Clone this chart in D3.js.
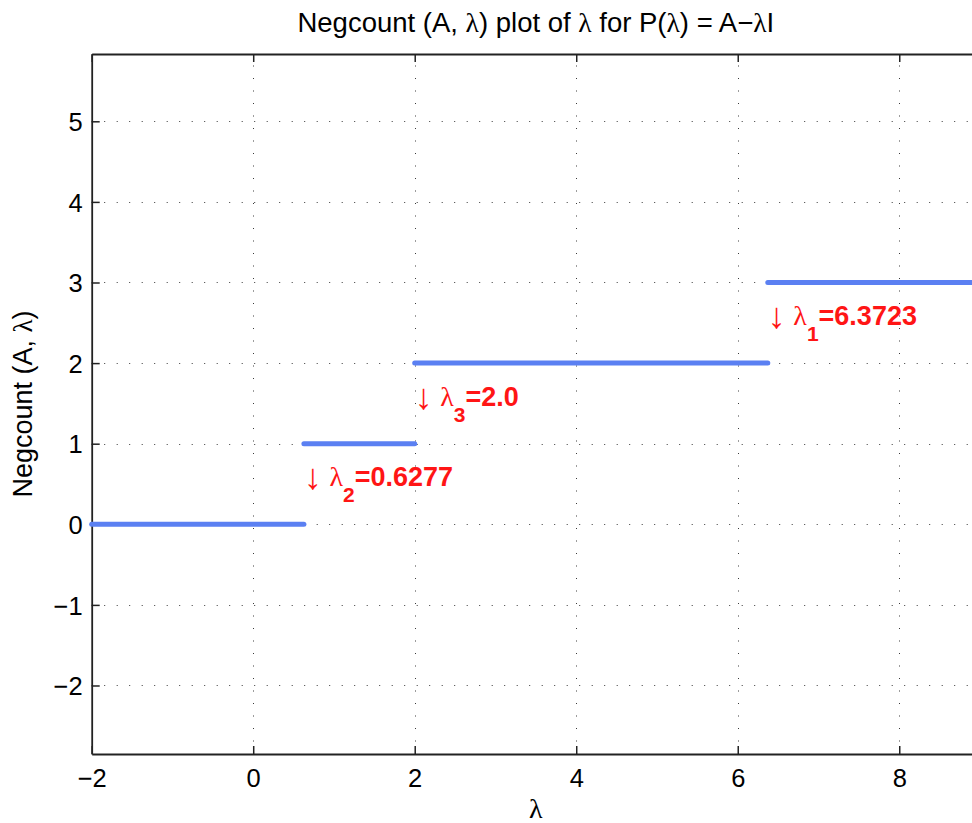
<!DOCTYPE html>
<html>
<head>
<meta charset="utf-8">
<script src="https://cdn.jsdelivr.net/npm/d3@7"></script>
<style>
  html, body { margin: 0; padding: 0; background: #fff; }
  svg { display: block; font-family: "Liberation Sans", Arial, Helvetica, sans-serif; }
</style>
</head>
<body>
<svg id="chart" width="972" height="823"></svg>
<script>
// Step function: number of negative eigenvalues of A - λI
const stepStart = [-2, 0.6277, 2.0, 6.3723];
const stepEnd   = [0.6277, 2.0, 6.3723, 9];
const negCount  = [0, 1, 2, 3];

// Eigenvalue annotations
const eigValues   = [0.6277, 2.0, 6.3723];
const eigIndex    = ["2", "3", "1"];
const eigText     = ["0.6277", "2.0", "6.3723"];
const eigBelowCnt = [0, 1, 2];

const xTicks = [-2, 0, 2, 4, 6, 8];
const yTicks = [-2, -1, 0, 1, 2, 3, 4, 5];

const svg = d3.select("#chart");
const plotL = 91.7, plotR = 980, plotT = 54, plotB = 754;
const greekFont = "'Liberation Serif', 'Times New Roman', serif";

const x = d3.scaleLinear().domain([-2, 9]).range([plotL, plotR]);
const y = d3.scaleLinear().domain([-2.85, 5.835]).range([plotB, plotT]);

const fmt = d => (d < 0 ? "\u2212" + Math.abs(d) : String(d));

// writes a string into a text node, setting each λ in a serif face
function richText(sel, str) {
  str.split(/(\u03bb)/).filter(s => s.length).forEach(part => {
    const ts = sel.append("tspan").text(part);
    if (part === "\u03bb") ts.attr("font-family", greekFont);
  });
  return sel;
}

// dotted grid
const grid = svg.append("g").attr("stroke", "#3a3a3a").attr("stroke-width", 1)
  .attr("stroke-dasharray", "1 11.5");
grid.selectAll("line.gx").data(xTicks.filter(d => d !== -2)).join("line")
  .attr("x1", d => Math.round(x(d)) + 0.5).attr("x2", d => Math.round(x(d)) + 0.5)
  .attr("y1", plotB).attr("y2", plotT);
grid.selectAll("line.gy").data(yTicks).join("line")
  .attr("y1", d => Math.round(y(d)) + 0.5).attr("y2", d => Math.round(y(d)) + 0.5)
  .attr("x1", plotL).attr("x2", plotR);

// axes with inward ticks
const tickLen = 8;
const axB = svg.append("g").attr("transform", `translate(0,${plotB})`)
  .call(d3.axisBottom(x).tickValues(xTicks).tickFormat(fmt).tickSizeInner(-tickLen).tickSizeOuter(0).tickPadding(15));
const axT = svg.append("g").attr("transform", `translate(0,${plotT})`)
  .call(d3.axisTop(x).tickValues(xTicks).tickFormat("").tickSizeInner(-tickLen).tickSizeOuter(0));
const axL = svg.append("g").attr("transform", `translate(${plotL},0)`)
  .call(d3.axisLeft(y).tickValues(yTicks).tickFormat(fmt).tickSizeInner(-tickLen).tickSizeOuter(0).tickPadding(9));
const axR = svg.append("g").attr("transform", `translate(${plotR},0)`)
  .call(d3.axisRight(y).tickValues(yTicks).tickFormat("").tickSizeInner(-tickLen).tickSizeOuter(0));

[axB, axT, axL, axR].forEach(a => {
  a.select(".domain").attr("stroke", "#222").attr("stroke-width", 1.8);
  a.selectAll(".tick line").attr("stroke", "#222").attr("stroke-width", 1.5);
  a.selectAll(".tick text").attr("fill", "#000").attr("font-size", 25.5)
    .attr("font-family", "'Liberation Sans', Arial, sans-serif");
});
axB.selectAll(".tick text").attr("dy", "0.71em");
axL.selectAll(".tick text").attr("dy", "0.36em");

// step segments
svg.append("g").selectAll("line").data(negCount).join("line")
  .attr("x1", (d, i) => x(stepStart[i])).attr("x2", (d, i) => x(stepEnd[i]))
  .attr("y1", d => y(d)).attr("y2", d => y(d))
  .attr("stroke", "#5b80f2").attr("stroke-width", 5).attr("stroke-linecap", "round");

// eigenvalue labels
const lab = svg.append("g").attr("fill", "#ff1515");
eigValues.forEach((v, i) => {
  const t = lab.append("text").attr("x", x(v)).attr("y", y(eigBelowCnt[i] + 0.47))
    .attr("font-size", 27);
  t.append("tspan").attr("font-size", 36).attr("dy", 3).text("\u2193");
  t.append("tspan").attr("dy", -3).text(" ");
  t.append("tspan").attr("font-family", greekFont).attr("font-size", 28).text("\u03bb");
  t.append("tspan").attr("font-weight", "bold").attr("font-size", 21).attr("dy", 16).text(eigIndex[i]);
  t.append("tspan").attr("font-weight", "bold").attr("dy", -16).text("=" + eigText[i]);
});

// title and axis labels
richText(svg.append("text").attr("x", (plotL + plotR) / 2).attr("y", 32).attr("text-anchor", "middle")
  .attr("font-size", 27.5), "Negcount (A, \u03bb) plot of \u03bb for P(\u03bb) = A\u2212\u03bbI");
svg.append("text").attr("x", (plotL + plotR) / 2).attr("y", 818).attr("text-anchor", "middle")
  .attr("font-size", 28).attr("font-family", greekFont).text("\u03bb");
richText(svg.append("text").attr("transform", `translate(32,${(plotT + plotB) / 2}) rotate(-90)`)
  .attr("text-anchor", "middle").attr("font-size", 27), "Negcount (A, \u03bb)");
</script>
</body>
</html>
